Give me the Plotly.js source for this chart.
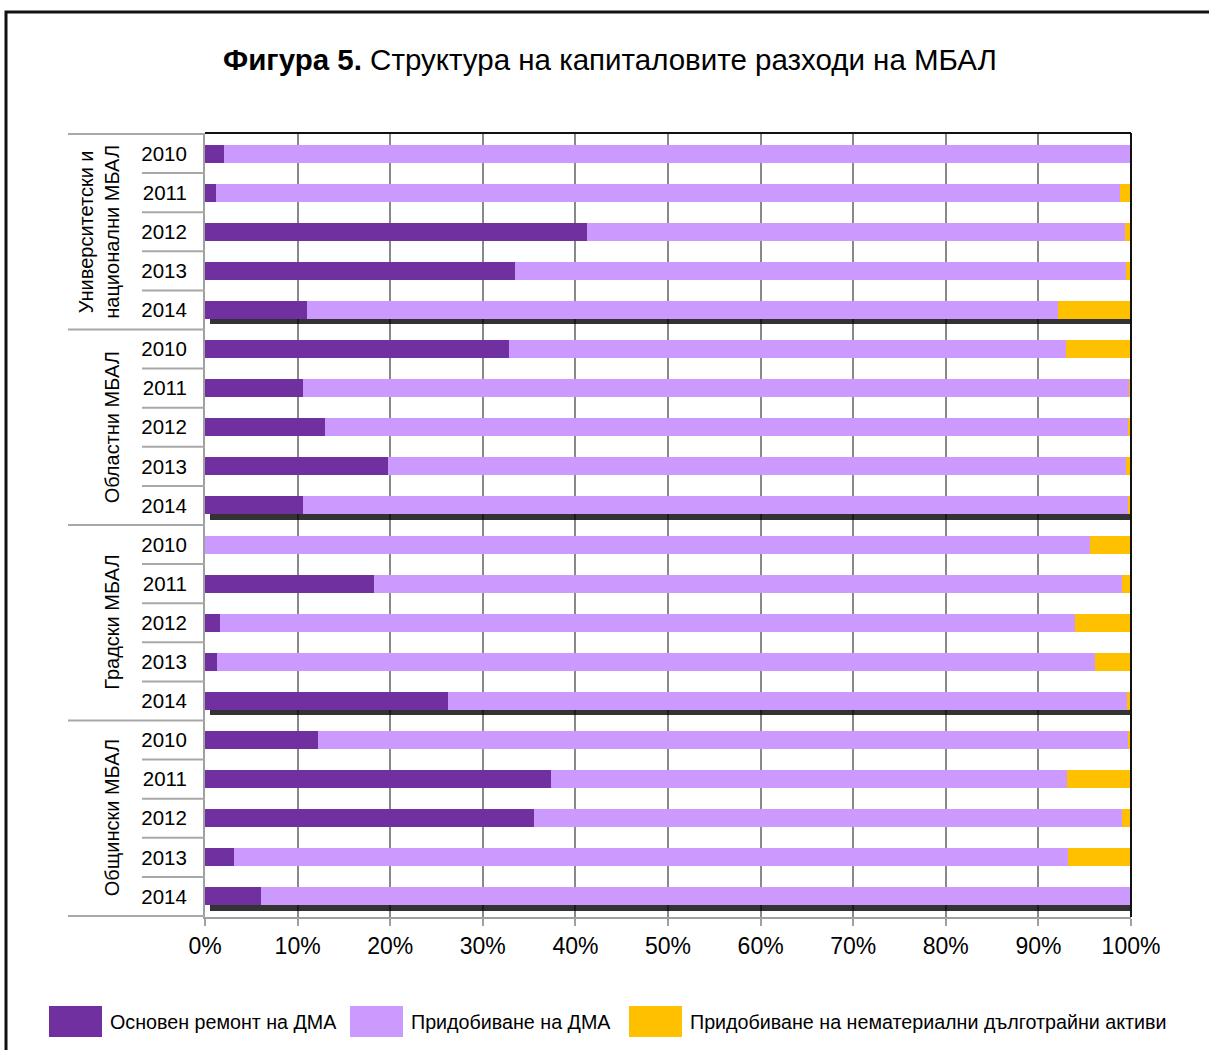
<!DOCTYPE html>
<html>
<head>
<meta charset="utf-8">
<script src="https://cdn.plot.ly/plotly-3.0.1.min.js"></script>
<style>
  html, body { margin: 0; padding: 0; background: #fff; }
  #chart { width: 1209px; height: 1050px; }
</style>
</head>
<body>
<div id="chart"></div>
<script>
    // groups and years, top to bottom
    var groups = ['Университетски и<br>национални МБАЛ', 'Областни МБАЛ', 'Градски МБАЛ', 'Общински МБАЛ'];
    var years = ['2010', '2011', '2012', '2013', '2014'];

    // shares in %, same order (group by group, 2010..2014)
    var repair = [2.0, 1.2, 41.3, 33.5, 11.0,
                  32.8, 10.6, 13.0, 19.8, 10.6,
                  0.0, 18.3, 1.6, 1.3, 26.2,
                  12.2, 37.4, 35.5, 3.1, 6.1];
    var acquire = [97.9, 97.6, 58.0, 66.0, 81.1,
                   60.2, 89.2, 86.7, 79.7, 89.1,
                   95.6, 80.7, 92.3, 94.8, 73.4,
                   87.5, 55.7, 63.5, 90.1, 93.8];
    var intangible = [0.1, 1.2, 0.7, 0.5, 7.9,
                      7.0, 0.2, 0.3, 0.5, 0.3,
                      4.4, 1.0, 6.1, 3.9, 0.4,
                      0.3, 6.9, 0.9, 6.8, 0.1];

    var seriesNames = ['Основен ремонт на ДМА', 'Придобиване на ДМА', 'Придобиване на нематериални дълготрайни активи'];
    var colors = ['#7030a0', '#cc99ff', '#ffc000'];

    var font = '"Liberation Sans", Arial, sans-serif';

    // plot box in page pixels
    var L = 205, R = 1131, T = 133, B = 917;
    function px(x) { return (x - L) / (R - L); }
    function py(y) { return (B - y) / (B - T); }

    var keys = [], ticks = [];
    groups.forEach(function (g, gi) {
        years.forEach(function (yr) {
            keys.push(gi + '|' + yr);
            ticks.push(yr);
        });
    });

    var barW = 0.46;
    var base2 = repair.slice();
    var base3 = repair.map(function (v, i) { return v + acquire[i]; });

    // shadow under last bar of every group
    var shadowX = keys.map(function (k, i) { return (i % years.length === years.length - 1) ? 100 : null; });

    var shadow = {
        type: 'bar', orientation: 'h', y: keys, x: shadowX, base: 0.5,
        width: barW, offset: -barW / 2 + 0.13,
        marker: { color: 'rgba(0,0,0,0.8)' },
        hoverinfo: 'skip', showlegend: false,
    };
    var trace1 = {
        type: 'bar', orientation: 'h', y: keys, x: repair, name: seriesNames[0],
        width: barW, marker: { color: colors[0] },
    };
    var trace2 = {
        type: 'bar', orientation: 'h', y: keys, x: acquire, base: base2, name: seriesNames[1],
        width: barW, marker: { color: colors[1] },
    };
    var trace3 = {
        type: 'bar', orientation: 'h', y: keys, x: intangible, base: base3, name: seriesNames[2],
        width: barW, marker: { color: colors[2] },
    };

    var shapes = [];
    var annotations = [];

    // separators left of the plot
    for (var i = 0; i <= keys.length; i++) {
        var groupLine = (i % years.length === 0);
        shapes.push({
            type: 'line', xref: 'paper', yref: 'y',
            x0: groupLine ? px(68) : px(142), x1: 0,
            y0: i - 0.5, y1: i - 0.5,
            line: { color: '#a8a8a8', width: 2 },
        });
    }
    // top and right frame of the plot
    shapes.push({ type: 'line', xref: 'paper', yref: 'paper', x0: 0, x1: 1, y0: 1, y1: 1, line: { color: '#111', width: 2 } });
    shapes.push({ type: 'line', xref: 'paper', yref: 'paper', x0: 1, x1: 1, y0: 0, y1: 1, line: { color: '#111', width: 2 } });
    // outer border of the figure
    shapes.push({
        type: 'rect', xref: 'paper', yref: 'paper',
        x0: px(6), x1: px(1220), y0: py(1060), y1: py(12),
        line: { color: '#111', width: 3 },
    });

    // group labels
    groups.forEach(function (g, gi) {
        annotations.push({
            xref: 'paper', yref: 'y', x: px(125), y: keys[gi * years.length + 2],
            xanchor: 'right', yanchor: 'middle', textangle: -90,
            text: g, showarrow: false,
            font: { family: font, size: 20, color: '#000' },
        });
    });

    // legend built by hand, large swatches
    var legendX = [49, 350, 629];
    legendX.forEach(function (x, si) {
        shapes.push({
            type: 'rect', xref: 'paper', yref: 'paper',
            x0: px(x), x1: px(x + 53), y0: py(1037), y1: py(1006),
            fillcolor: colors[si], line: { width: 0 },
        });
        annotations.push({
            xref: 'paper', yref: 'paper', x: px(x + 59), y: py(1022),
            xanchor: 'left', yanchor: 'middle', text: seriesNames[si], showarrow: false,
            font: { family: font, size: 19.7, color: '#000' },
        });
    });

    var layout = {
        width: 1209,
        height: 1050,
        paper_bgcolor: '#fff',
        plot_bgcolor: '#fff',
        barmode: 'overlay',
        showlegend: false,
        bargap: 0,
        margin: { l: L, r: 1209 - R, t: T, b: 1050 - B, pad: 0 },
        title: {
            text: '<b>Фигура 5.</b> Структура на капиталовите разходи на МБАЛ',
            x: px(610), xref: 'paper', xanchor: 'center',
            y: 1 - 60 / 1050, yref: 'container', yanchor: 'middle',
            font: { family: font, size: 29.5, color: '#000' },
        },
        xaxis: {
            range: [0, 100],
            dtick: 10,
            ticksuffix: '%',
            showgrid: true,
            gridcolor: '#888',
            gridwidth: 2,
            zeroline: false,
            showline: true,
            linecolor: '#a0a0a0',
            linewidth: 2,
            ticks: 'outside',
            ticklen: 7,
            tickwidth: 2,
            tickcolor: '#a0a0a0',
            tickfont: { family: font, size: 23, color: '#000' },
            fixedrange: true,
        },
        yaxis: {
            type: 'category',
            autorange: 'reversed',
            tickvals: keys,
            ticktext: ticks,
            showgrid: false,
            zeroline: false,
            showline: true,
            linecolor: '#a0a0a0',
            linewidth: 2,
            ticks: '',
            ticklabelstandoff: 12,
            tickfont: { family: font, size: 20.5, color: '#000' },
            fixedrange: true,
        },
        shapes: shapes,
        annotations: annotations,
    };

    Plotly.newPlot(document.getElementById('chart'), [shadow, trace1, trace2, trace3], layout, { displayModeBar: false, staticPlot: true });
</script>
</body>
</html>
